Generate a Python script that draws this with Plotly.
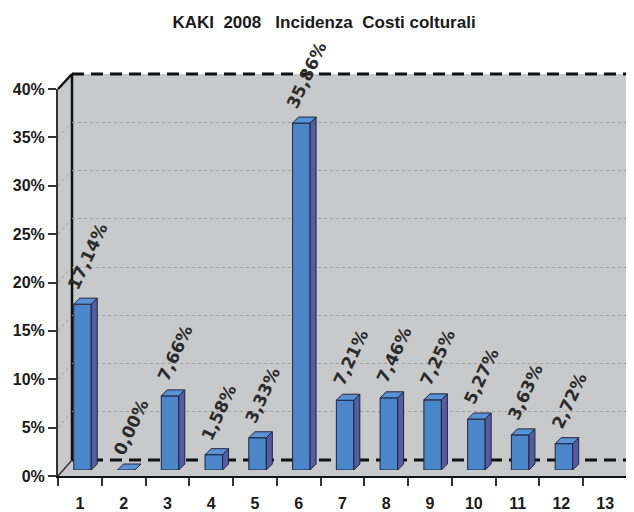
import plotly.graph_objects as go

# ---------------- data ----------------
categories = ["1", "2", "3", "4", "5", "6", "7", "8", "9", "10", "11", "12", "13"]
bar_categories = [1, 2, 3, 4, 5, 6, 7, 8, 9, 10, 11, 12]
incidenza = [17.14, 0.00, 7.66, 1.58, 3.33, 35.86, 7.21, 7.46, 7.25, 5.27, 3.63, 2.72]
y_tick_values = [0, 5, 10, 15, 20, 25, 30, 35, 40]
y_tick_labels = ["0%", "5%", "10%", "15%", "20%", "25%", "30%", "35%", "40%"]
title_text = "KAKI  2008   Incidenza  Costi colturali"

# ---------------- geometry (screen pixels) ----------------
W, H = 634, 512
OFF = 8                 # page body margin
FX0, FX1 = 58, 627      # front x axis ends
FY0, FY1 = 476, 89      # front y axis: 0% and 40%
BX0, BX1 = 72, 634      # back wall x
BY0, BY1 = 460, 74      # back wall y: 0% and 40%
BDX, BDY = 2.6, 6       # bar plane offset
DEPTH = 6               # bar depth in px
YMAX = 40
NCAT = len(categories)


def px(x):
    return (x - OFF) / W


def py(y):
    return 1 - (y - OFF) / H


GREY = "#C8C9CB"
FRONT = "#4A86C8"
SIDE = "#575CA0"
TOP = "#5B92D4"
EDGE = "#1E2440"

fig = go.Figure()

# depth offsets in data units of the bar axes
dx = DEPTH * NCAT / (FX1 - FX0)
dy = DEPTH * YMAX / ((FY0 - BDY) - (FY1 - BDY))
bw = 0.40

# front faces
fig.add_trace(go.Bar(
    x=bar_categories, y=incidenza, width=bw,
    marker=dict(color=FRONT, line=dict(color=EDGE, width=1)),
    xaxis="x3", yaxis="y3", hoverinfo="skip", showlegend=False))

# side and top faces derived from the data
sx, sy, tx, ty = [], [], [], []
for c, v in zip(bar_categories, incidenza):
    r = c + bw / 2
    l = c - bw / 2
    sx += [r, r + dx, r + dx, r, r, None]
    sy += [0, dy, v + dy, v, 0, None]
    tx += [l, r, r + dx, l + dx, l, None]
    ty += [v, v, v + dy, v + dy, v, None]
fig.add_trace(go.Scatter(x=sx, y=sy, mode="lines", fill="toself", fillcolor=SIDE,
                         line=dict(color=EDGE, width=1), xaxis="x3", yaxis="y3",
                         hoverinfo="skip", showlegend=False))
fig.add_trace(go.Scatter(x=tx, y=ty, mode="lines", fill="toself", fillcolor=TOP,
                         line=dict(color=EDGE, width=1), xaxis="x3", yaxis="y3",
                         hoverinfo="skip", showlegend=False))

# empty trace for the back-wall subplot
fig.add_trace(go.Scatter(x=[None], y=[None], xaxis="x2", yaxis="y2",
                         showlegend=False, hoverinfo="skip"))
# empty trace for the front axes
fig.add_trace(go.Scatter(x=[None], y=[None], xaxis="x", yaxis="y",
                         showlegend=False, hoverinfo="skip"))

# value labels
annotations = []
for c, v in zip(bar_categories, incidenza):
    annotations.append(dict(
        x=c + dx / 2 + 0.05, y=v + dy, xref="x3", yref="y3",
        text=f"{v:.2f}".replace(".", ",") + "%",
        textangle=-65, showarrow=False, xanchor="center", yanchor="bottom",
        yshift=3,
        font=dict(family="DejaVu Sans", size=17, color="#2B2B2B", weight="bold")))

# wall shapes
shapes = []
shapes.append(dict(type="path", xref="paper", yref="paper", layer="below",
                   path=f"M {px(FX0)},{py(FY1)} L {px(BX0)},{py(BY1)} L {px(BX0)},{py(BY0)} L {px(FX0)},{py(FY0)} Z",
                   fillcolor=GREY, line=dict(width=0)))
shapes.append(dict(type="rect", xref="paper", yref="paper", layer="below",
                   x0=px(BX0), x1=px(BX1), y0=py(BY0), y1=py(BY1),
                   fillcolor=GREY, line=dict(width=0)))
shapes.append(dict(type="path", xref="paper", yref="paper", layer="below",
                   path=f"M {px(FX0)},{py(FY0)} L {px(BX0)},{py(BY0)} L {px(BX1)},{py(BY0)} L {px(BX1)},{py(FY0-7)} L {px(FX1)},{py(FY0)} Z",
                   fillcolor=GREY, line=dict(width=0)))
# side-wall gridlines
for v in y_tick_values[1:-1]:
    yf = FY0 + (FY1 - FY0) * v / YMAX
    yb = BY0 + (BY1 - BY0) * v / YMAX
    shapes.append(dict(type="line", xref="paper", yref="paper", layer="below",
                       x0=px(FX0), y0=py(yf), x1=px(BX0), y1=py(yb),
                       line=dict(color="#A0A0A0", width=1, dash="dot")))
# edges
shapes.append(dict(type="line", xref="paper", yref="paper", layer="below",
                   x0=px(BX0), y0=py(BY1), x1=px(BX1), y1=py(BY1),
                   line=dict(color="#111", width=3, dash="12px,7px")))
shapes.append(dict(type="line", xref="paper", yref="paper", layer="below",
                   x0=px(BX0), y0=py(BY0), x1=px(BX1), y1=py(BY0),
                   line=dict(color="#111", width=3, dash="12px,7px")))
shapes.append(dict(type="line", xref="paper", yref="paper", layer="below",
                   x0=px(BX0), y0=py(BY1), x1=px(BX0), y1=py(BY0),
                   line=dict(color="#111", width=2.5)))
shapes.append(dict(type="line", xref="paper", yref="paper", layer="below",
                   x0=px(FX0), y0=py(FY1), x1=px(BX0), y1=py(BY1),
                   line=dict(color="#111", width=2.5)))
shapes.append(dict(type="line", xref="paper", yref="paper", layer="below",
                   x0=px(FX0), y0=py(FY0), x1=px(BX0), y1=py(BY0),
                   line=dict(color="#333", width=1.5)))
shapes.append(dict(type="line", xref="paper", yref="paper", layer="below",
                   x0=px(FX1), y0=py(FY0), x1=px(BX1), y1=py(FY0 - 7),
                   line=dict(color="#333", width=1.5)))

tickfont = dict(family="Liberation Sans, Arial, sans-serif", size=16, color="#1A1A1A", weight="bold")

fig.update_layout(
    width=W, height=H,
    margin=dict(l=0, r=0, t=0, b=0, pad=0, autoexpand=False),
    paper_bgcolor="white",
    plot_bgcolor="rgba(0,0,0,0)",
    showlegend=False,
    title=dict(text=title_text, x=px(324), xanchor="center", y=py(22.5), yanchor="middle",
               automargin=False,
               font=dict(family="Liberation Sans, Arial, sans-serif",
                         size=17, color="#1A1A1A", weight="bold")),
    xaxis=dict(domain=[px(FX0), px(FX1)], range=[0.5, NCAT + 0.5], anchor="y",
               automargin=False,
               tickvals=list(range(1, NCAT + 1)), ticktext=categories,
               ticks="", showgrid=False, zeroline=False,
               showline=True, linecolor="#111", linewidth=2,
               minor=dict(ticks="outside", tick0=0.5, dtick=1, ticklen=8, tickcolor="#333", tickwidth=1.5, showgrid=False),
               ticklabelstandoff=12, tickfont=tickfont),
    yaxis=dict(domain=[py(FY0), py(FY1)], range=[0, YMAX], anchor="x",
               automargin=False,
               tickvals=y_tick_values, ticktext=y_tick_labels,
               ticks="outside", ticklen=8, tickwidth=1.5, tickcolor="#333",
               showgrid=False, zeroline=False,
               showline=True, linecolor="#333", linewidth=2,
               tickfont=tickfont),
    xaxis2=dict(domain=[px(BX0), px(BX1)], range=[0, 1], anchor="y2", automargin=False,
                showticklabels=False, ticks="", showgrid=False, zeroline=False, showline=False),
    yaxis2=dict(domain=[py(BY0), py(BY1)], range=[0, YMAX], anchor="x2", automargin=False,
                tickvals=y_tick_values[1:-1], showticklabels=False, ticks="",
                showgrid=True, gridcolor="#9E9E9E", gridwidth=1, griddash="dot",
                zeroline=False, showline=False),
    xaxis3=dict(domain=[px(FX0 + BDX), px(FX1 + BDX)], range=[0.5, NCAT + 0.5], anchor="y3",
                automargin=False, visible=False),
    yaxis3=dict(domain=[py(FY0 - BDY), py(FY1 - BDY)], range=[0, YMAX], anchor="x3",
                automargin=False, visible=False),
    shapes=shapes,
    annotations=annotations,
)

fig.write_html("out.html")
